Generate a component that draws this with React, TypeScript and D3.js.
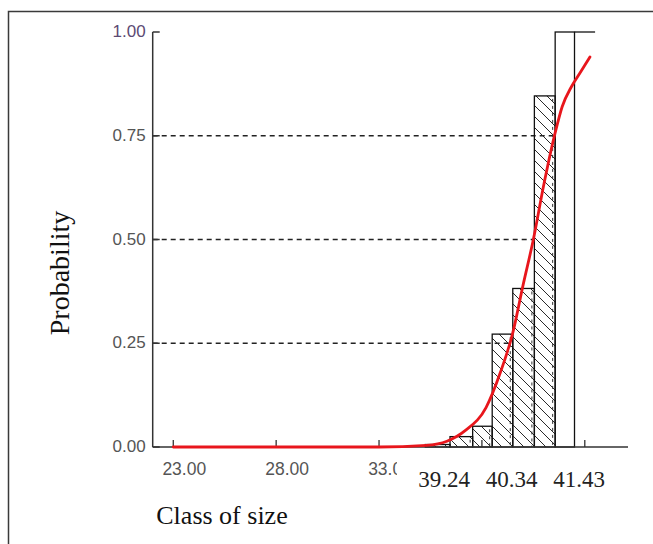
import { scaleLinear, scalePoint, line, curveMonotoneX } from "d3"

// histogram bins (lower edge, upper edge) and cumulative probability
const binLo = [35.25, 36.45, 37.55, 38.5, 39.5, 40.55, 41.56]
const binHi = [36.45, 37.55, 38.5, 39.5, 40.55, 41.56, 42.5]
const binP = [0.006, 0.025, 0.05, 0.272, 0.382, 0.846, 1.0]
const binHatched = [true, true, true, true, true, true, false]
// step continuation at 1.00 after the last bin
const stepEnd = 43.5

// fitted curve
const curveX = [23, 28, 33, 35.3, 36.3, 37.2, 38.2, 38.9, 39.5, 40.0, 40.5, 41.0, 41.55, 41.9, 42.35, 42.75, 43.25]
const curveP = [0, 0, 0, 0.004, 0.014, 0.04, 0.095, 0.18, 0.275, 0.39, 0.5, 0.63, 0.755, 0.82, 0.868, 0.9, 0.94]

const yTicks = [0, 0.25, 0.5, 0.75, 1]
const yTickLabels = ["0.00", "0.25", "0.50", "0.75", "1.00"]
const guideP = [0.25, 0.5, 0.75]
const xTicks = [23, 28, 33, 38, 43]
// 38.00 and 43.00 are hidden under the class labels
const xTickLabels = ["23.00", "28.00", "33.00", "", ""]
// class labels pasted over the right part of the axis
const classLabels = ["39.24", "40.34", "41.43"]

const W = 653
const H = 544
const sans = "Arial, 'Liberation Sans', sans-serif"
const serif = "'Times New Roman', 'Liberation Serif', serif"

export default function App() {
  const x = scaleLinear([22, 45.1], [152.7, 628])
  const y = scaleLinear([0, 1], [447, 32])
  const lx = scalePoint(classLabels, [444, 579])

  const curvePath = line<number>()
    .x((_, i) => x(curveX[i]))
    .y(d => y(d))
    .curve(curveMonotoneX)(curveP) || ""

  // x where the curve first reaches p (linear between points)
  const crossX = (p: number) => {
    for (let i = 1; i < curveP.length; i++) {
      if (curveP[i] >= p) {
        const t = (p - curveP[i - 1]) / (curveP[i] - curveP[i - 1])
        return curveX[i - 1] + t * (curveX[i] - curveX[i - 1])
      }
    }
    return curveX[curveX.length - 1]
  }

  const last = binP.length - 1
  const x0 = x.range()[0]
  const coverX = 397

  return (
    <svg width={W} height={H} style={{ position: "absolute", left: 0, top: 0, background: "#fff" }}>
      <defs>
        <pattern id="hatch" patternUnits="userSpaceOnUse" width="11" height="11">
          <path d="M0,0 L11,11 M-5.5,5.5 L5.5,16.5 M5.5,-5.5 L16.5,5.5" stroke="#2a2a2a" strokeWidth="1" />
        </pattern>
        <clipPath id="tickclip">
          <rect x={0} y={0} width={coverX} height={H} />
        </clipPath>
      </defs>

      {/* outer frame */}
      <path d={`M8.5,${H} L8.5,11.5 L${W},11.5`} fill="none" stroke="#3a3a3a" strokeWidth="1.5" />

      {/* dashed guides */}
      {guideP.map(p => (
        <line key={p} x1={x0} x2={x(crossX(p))} y1={y(p)} y2={y(p)}
          stroke="#222" strokeWidth="1.3" strokeDasharray="5,4" />
      ))}

      {/* bars */}
      {binP.map((p, i) => (
        <g key={i}>
          <rect x={x(binLo[i])} y={y(p)} width={x(binHi[i]) - x(binLo[i])} height={y(0) - y(p)}
            fill={binHatched[i] ? "url(#hatch)" : "none"} stroke="#111" strokeWidth="1.3" />
          {binHatched[i] && i > 0 && (
            <line x1={x(binHi[i]) - 2.5} x2={x(binHi[i]) - 2.5} y1={y(p) + 3} y2={y(0)}
              stroke="#333" strokeWidth="1" strokeDasharray="3,4" />
          )}
        </g>
      ))}
      <line x1={x(binHi[last])} x2={x(stepEnd)} y1={y(binP[last])} y2={y(binP[last])} stroke="#111" strokeWidth="1.3" />

      {/* axes */}
      <line x1={x0} x2={x0} y1={y(1)} y2={y(0)} stroke="#333" strokeWidth="1.5" />
      <line x1={x0} x2={x.range()[1]} y1={y(0)} y2={y(0)} stroke="#333" strokeWidth="1.5" />
      {yTicks.map((t, i) => (
        <g key={t}>
          <line x1={x0} x2={x0 + 7} y1={y(t)} y2={y(t)} stroke="#333" strokeWidth="1.5" />
          <text x={x0 - 7} y={y(t)} dy="0.3em" textAnchor="end" fontFamily={sans}
            fontSize="17" fill={i === yTicks.length - 1 ? "#5c4a73" : "#555"}>{yTickLabels[i]}</text>
        </g>
      ))}
      {xTicks.map((t, i) => (
        <g key={t}>
          <line x1={x(t)} x2={x(t)} y1={y(0)} y2={y(0) - 7} stroke="#333" strokeWidth="1.3" />
          {xTickLabels[i] && (
            <text x={x(t) + 11} y={y(0) + 28} textAnchor="middle" fontFamily={sans}
              fontSize="17.5" fill="#555" clipPath="url(#tickclip)">{xTickLabels[i]}</text>
          )}
        </g>
      ))}

      {/* fitted curve */}
      <path d={curvePath} fill="none" stroke="#e8161c" strokeWidth="2.8" strokeLinecap="round" />

      {/* class labels */}
      {classLabels.map(v => (
        <text key={v} x={lx(v)} y={487} textAnchor="middle" fontFamily={serif} fontSize="23" fill="#222">
          {v}
        </text>
      ))}

      {/* axis titles */}
      <text transform="translate(69,273) rotate(-90)" textAnchor="middle"
        fontFamily={serif} fontSize="28" fill="#111">Probability</text>
      <text x={222} y={524} textAnchor="middle"
        fontFamily={serif} fontSize="26" fill="#111">Class of size</text>
    </svg>
  )
}
